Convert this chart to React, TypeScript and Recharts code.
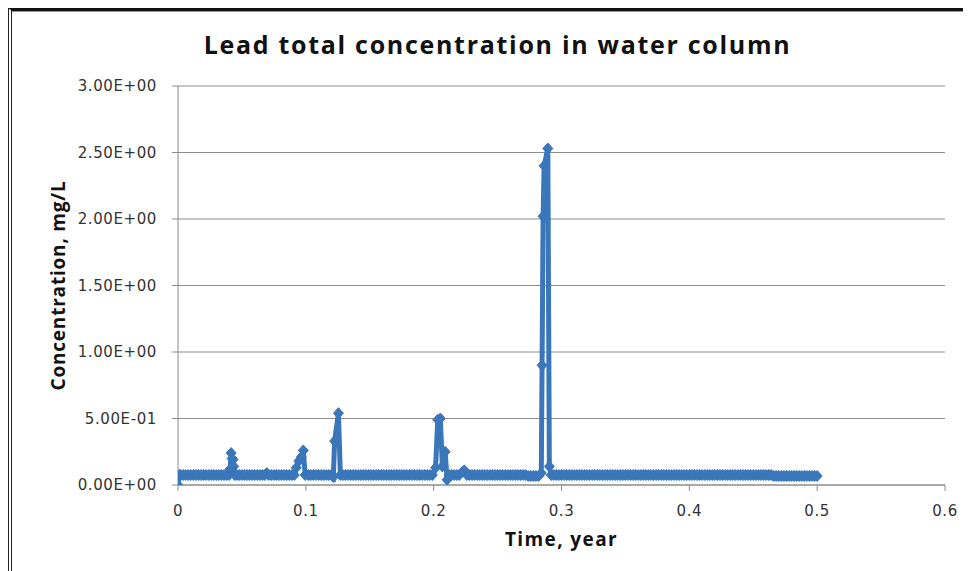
import { CartesianGrid, Label, Line, LineChart, XAxis, YAxis } from "recharts";

// time, year
const timeYears = [
  0, 0.0008,
  0.002, 0.004, 0.006, 0.008, 0.01, 0.012, 0.014, 0.016, 0.018, 0.02,
  0.022, 0.024, 0.026, 0.028, 0.03, 0.032, 0.034, 0.036, 0.038, 0.04,
  0.0408, 0.0416, 0.0424, 0.043, 0.0436, 0.0444,
  0.046, 0.048, 0.05, 0.052, 0.054, 0.056, 0.058, 0.06, 0.062, 0.064, 0.066, 0.068,
  0.0695, 0.071,
  0.073, 0.075, 0.077, 0.079, 0.081, 0.083, 0.085, 0.087, 0.089,
  0.091, 0.0925, 0.0945, 0.0965, 0.098, 0.0995,
  0.102, 0.104, 0.106, 0.108, 0.11, 0.112, 0.114, 0.116, 0.118, 0.12,
  0.1215, 0.1225, 0.1255, 0.127,
  0.129, 0.131, 0.133, 0.135, 0.137, 0.139, 0.141, 0.143, 0.145, 0.147, 0.149, 0.151,
  0.153, 0.155, 0.157, 0.159, 0.161, 0.163, 0.165, 0.167, 0.169, 0.171, 0.173, 0.175,
  0.177, 0.179, 0.181, 0.183, 0.185, 0.187, 0.189, 0.191, 0.193, 0.195, 0.197, 0.199,
  0.2015, 0.2032, 0.2052, 0.2068, 0.209, 0.2105, 0.212,
  0.214, 0.216, 0.218, 0.22, 0.2225, 0.224, 0.226,
  0.228, 0.23, 0.232, 0.234, 0.236, 0.238, 0.24, 0.242, 0.244, 0.246, 0.248, 0.25,
  0.252, 0.254, 0.256, 0.258, 0.26, 0.262, 0.264, 0.266, 0.268, 0.27, 0.272, 0.274,
  0.276, 0.278, 0.28,
  0.282, 0.2842, 0.2848, 0.2856, 0.2864, 0.2893, 0.2905, 0.292,
  0.294, 0.296, 0.298, 0.3, 0.302, 0.304, 0.306, 0.308, 0.31, 0.312,
  0.314, 0.316, 0.318, 0.32, 0.322, 0.324, 0.326, 0.328, 0.33, 0.332,
  0.334, 0.336, 0.338, 0.34, 0.342, 0.344, 0.346, 0.348, 0.35, 0.352,
  0.354, 0.356, 0.358, 0.36, 0.362, 0.364, 0.366, 0.368, 0.37, 0.372,
  0.374, 0.376, 0.378, 0.38, 0.382, 0.384, 0.386, 0.388, 0.39, 0.392,
  0.394, 0.396, 0.398, 0.4, 0.402, 0.404, 0.406, 0.408, 0.41, 0.412,
  0.414, 0.416, 0.418, 0.42, 0.422, 0.424, 0.426, 0.428, 0.43, 0.432,
  0.434, 0.436, 0.438, 0.44, 0.442, 0.444, 0.446, 0.448, 0.45, 0.452,
  0.454, 0.456, 0.458, 0.46, 0.462, 0.464,
  0.466, 0.468, 0.47, 0.472, 0.474, 0.476, 0.478, 0.48, 0.482, 0.484,
  0.486, 0.488, 0.49, 0.492, 0.494, 0.496, 0.498, 0.5,
];

// lead total concentration, mg/L (same order as timeYears)
const leadMgL = [
  0, 0.075,
  0.075, 0.075, 0.075, 0.075, 0.075, 0.075, 0.075, 0.075, 0.075, 0.075,
  0.075, 0.075, 0.075, 0.075, 0.075, 0.075, 0.075, 0.075, 0.075, 0.075,
  0.12, 0.24, 0.2, 0.19, 0.14, 0.075,
  0.075, 0.075, 0.075, 0.075, 0.075, 0.075, 0.075, 0.075, 0.075, 0.075, 0.075, 0.075,
  0.09, 0.075,
  0.075, 0.075, 0.075, 0.075, 0.075, 0.075, 0.075, 0.075, 0.075,
  0.075, 0.13, 0.18, 0.21, 0.26, 0.075,
  0.075, 0.075, 0.075, 0.075, 0.075, 0.075, 0.075, 0.075, 0.075, 0.075,
  0.06, 0.33, 0.54, 0.075,
  0.075, 0.075, 0.075, 0.075, 0.075, 0.075, 0.075, 0.075, 0.075, 0.075, 0.075, 0.075,
  0.075, 0.075, 0.075, 0.075, 0.075, 0.075, 0.075, 0.075, 0.075, 0.075, 0.075, 0.075,
  0.075, 0.075, 0.075, 0.075, 0.075, 0.075, 0.075, 0.075, 0.075, 0.075, 0.075, 0.075,
  0.13, 0.49, 0.5, 0.14, 0.25, 0.04, 0.075,
  0.075, 0.075, 0.075, 0.075, 0.1, 0.11, 0.075,
  0.075, 0.075, 0.075, 0.075, 0.075, 0.075, 0.075, 0.075, 0.075, 0.075, 0.075, 0.075,
  0.075, 0.075, 0.075, 0.075, 0.075, 0.075, 0.075, 0.075, 0.075, 0.075, 0.075, 0.068,
  0.068, 0.068, 0.068,
  0.068, 0.09, 0.9, 2.02, 2.4, 2.53, 0.14, 0.075,
  0.075, 0.075, 0.075, 0.075, 0.075, 0.075, 0.075, 0.075, 0.075, 0.075,
  0.075, 0.075, 0.075, 0.075, 0.075, 0.075, 0.075, 0.075, 0.075, 0.075,
  0.075, 0.075, 0.075, 0.075, 0.075, 0.075, 0.075, 0.075, 0.075, 0.075,
  0.075, 0.075, 0.075, 0.075, 0.075, 0.075, 0.075, 0.075, 0.075, 0.075,
  0.075, 0.075, 0.075, 0.075, 0.075, 0.075, 0.075, 0.075, 0.075, 0.075,
  0.075, 0.075, 0.075, 0.075, 0.075, 0.075, 0.075, 0.075, 0.075, 0.075,
  0.075, 0.075, 0.075, 0.075, 0.075, 0.075, 0.075, 0.075, 0.075, 0.075,
  0.075, 0.075, 0.075, 0.075, 0.075, 0.075, 0.075, 0.075, 0.075, 0.075,
  0.075, 0.075, 0.075, 0.075, 0.075, 0.075,
  0.068, 0.068, 0.068, 0.068, 0.068, 0.068, 0.068, 0.068, 0.068, 0.068,
  0.068, 0.068, 0.068, 0.068, 0.068, 0.068, 0.068, 0.068,
];

const xTicks = [0, 0.1, 0.2, 0.3, 0.4, 0.5, 0.6];
const xTickLabels = ["0", "0.1", "0.2", "0.3", "0.4", "0.5", "0.6"];
const yTicks = [0, 0.5, 1, 1.5, 2, 2.5, 3];
const yTickLabels = ["0.00E+00", "5.00E-01", "1.00E+00", "1.50E+00", "2.00E+00", "2.50E+00", "3.00E+00"];

const data = timeYears.map((t, i) => ({ time: t, lead: leadMgL[i] }));

const BLUE = "#3a76ba";
const tickStyle = { fontFamily: "DejaVu Sans", fontSize: 15, fill: "#333", letterSpacing: 0.6 };
const titleFont = "'Open Sans', sans-serif";

const Diamond = (props: any) => {
  const { cx, cy, index } = props;
  if (cx == null || cy == null) return <g key={index} />;
  return (
    <path
      key={index}
      d={`M${cx},${cy - 5.5}L${cx + 5},${cy}L${cx},${cy + 5.5}L${cx - 5},${cy}Z`}
      fill={BLUE}
      stroke={BLUE}
      strokeWidth={1}
      strokeLinejoin="round"
    />
  );
};

export default function App() {
  return (
    <div style={{ position: "relative", width: 963, height: 563 }}>
      <LineChart
        width={963}
        height={563}
        data={data}
        margin={{ top: 78, right: 26, bottom: 46, left: 90 }}
        style={{ position: "absolute", left: 0, top: 0 }}
      >
        <CartesianGrid vertical={false} stroke="#8c8c8c" />
        <XAxis
          dataKey="time"
          type="number"
          domain={[0, 0.6]}
          ticks={xTicks}
          tickFormatter={(v) => xTickLabels[xTicks.indexOf(v)] ?? String(v)}
          height={40}
          stroke="#8c8c8c"
          tickSize={6}
          tickMargin={14}
          tick={tickStyle}
          allowDataOverflow
        >
          <Label
            content={({ viewBox }: any) => (
              <text
                x={viewBox.x + viewBox.width / 2}
                y={538}
                textAnchor="middle"
                fontFamily={titleFont}
                fontWeight={700}
                fontSize={19}
                letterSpacing={1.4}
                fill="#111"
              >
                Time, year
              </text>
            )}
          />
        </XAxis>
        <YAxis
          type="number"
          domain={[0, 3]}
          ticks={yTicks}
          tickFormatter={(v) => yTickLabels[yTicks.indexOf(v)] ?? String(v)}
          width={80}
          stroke="#8c8c8c"
          tickSize={6}
          tickMargin={15}
          tick={tickStyle}
          allowDataOverflow
        >
          <Label
            content={({ viewBox }: any) => {
              const cy = viewBox.y + viewBox.height / 2;
              return (
                <text
                  x={49.5}
                  y={cy}
                  transform={`rotate(-90 49.5 ${cy})`}
                  textAnchor="middle"
                  dominantBaseline="central"
                  fontFamily={titleFont}
                  fontWeight={700}
                  fontSize={19}
                  letterSpacing={0.8}
                  fill="#111"
                >
                  Concentration, mg/L
                </text>
              );
            }}
          />
        </YAxis>
        <Line
          type="linear"
          dataKey="lead"
          stroke={BLUE}
          strokeWidth={5}
          dot={Diamond}
          activeDot={false}
          isAnimationActive={false}
        />
        <text
          x={489.5}
          y={46}
          textAnchor="middle"
          fontFamily={titleFont}
          fontWeight={700}
          fontSize={25}
          letterSpacing={1.7}
          fill="#111"
        >
          Lead total concentration in water column
        </text>
      </LineChart>
      <div
        style={{
          position: "absolute",
          left: 0,
          top: 0,
          width: 963,
          height: 563,
          boxSizing: "border-box",
          borderLeft: "4px double #222",
          borderTop: "3px solid #111",
          boxShadow: "inset 0 1px 0 #999",
          pointerEvents: "none",
        }}
      />
    </div>
  );
}
